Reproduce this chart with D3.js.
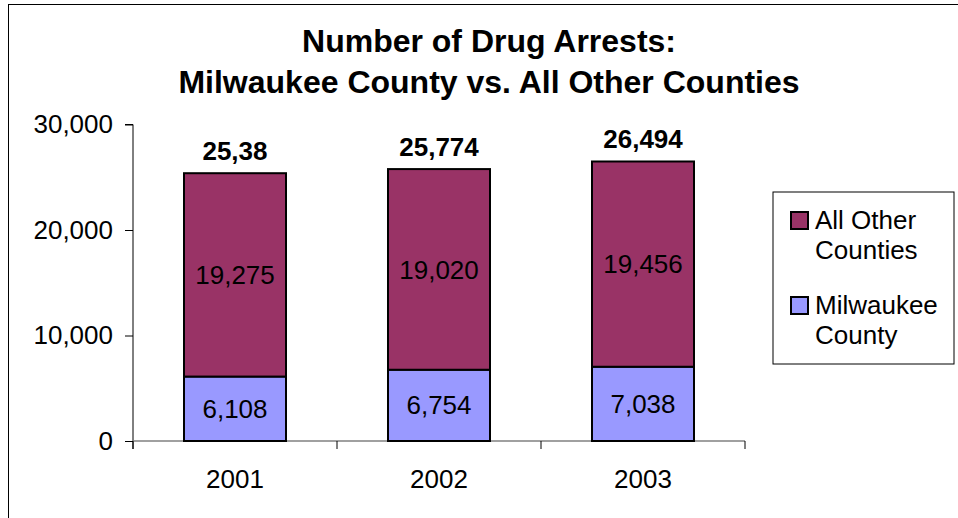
<!DOCTYPE html>
<html>
<head>
<meta charset="utf-8">
<script src="https://cdn.jsdelivr.net/npm/d3@7"></script>
<style>
  html, body { margin: 0; padding: 0; background: #fff; }
  svg { display: block; font-family: "Liberation Sans", Arial, sans-serif; }
</style>
</head>
<body>
<svg id="chart" width="958" height="518"></svg>
<script>
// ---- data ----
const years = ["2001", "2002", "2003"];
const milwaukee = [6108, 6754, 7038];
const otherCounties = [19275, 19020, 19456];
const totalLabels = ["25,38", "25,774", "26,494"];
const yTicks = [0, 10000, 20000, 30000];
const seriesNames = ["All Other Counties", "Milwaukee County"];
const titleLines = ["Number of Drug Arrests:", "Milwaukee County vs. All Other Counties"];

const colors = { other: "#993366", milw: "#9999FF" };

const svg = d3.select("#chart");

// outer frame (right/bottom edges are off-canvas)
svg.append("rect")
  .attr("x", 8.5).attr("y", 4.5)
  .attr("width", 1100).attr("height", 700)
  .attr("fill", "#fff").attr("stroke", "#000").attr("stroke-width", 1);

// title
svg.append("g").selectAll("text").data(titleLines).join("text")
  .attr("x", 489)
  .attr("y", (d, i) => 52 + i * 41)
  .attr("text-anchor", "middle")
  .attr("font-size", 32)
  .attr("font-weight", "bold")
  .attr("fill", "#000")
  .text(d => d);

// scales
const x = d3.scaleBand().domain(years).range([133, 745]).paddingInner(0.5).paddingOuter(0.25);
const y = d3.scaleLinear().domain([0, 30000]).range([441, 124.5]);

// y axis
const yAxis = d3.axisLeft(y).tickValues(yTicks).tickSize(8).tickPadding(12)
  .tickFormat(d3.format(","));
const gy = svg.append("g").attr("transform", "translate(133,0)").call(yAxis);
gy.select(".domain").attr("stroke", "#000").attr("d", "M-8,124.5H0V449");
gy.selectAll(".tick line").attr("stroke", "#000");
gy.selectAll(".tick text").attr("font-size", 26).attr("fill", "#000")
  .attr("font-family", "'Liberation Sans', Arial, sans-serif");

// x axis
const gx = svg.append("g").attr("transform", "translate(0,441)");
gx.append("line").attr("x1", 133).attr("x2", 745).attr("y1", 0).attr("y2", 0)
  .attr("stroke", "#808080").attr("stroke-width", 1.5);
const boundaries = years.map(d => x(d) - x.step() * x.paddingInner() / 2);
boundaries.push(x(years[years.length - 1]) + x.bandwidth() + x.step() * x.paddingInner() / 2);
gx.selectAll("line.tk").data(boundaries).join("line").attr("class", "tk")
  .attr("x1", d => d).attr("x2", d => d).attr("y1", 0).attr("y2", 8)
  .attr("stroke", "#000");
gx.selectAll("text").data(years).join("text")
  .attr("x", d => x(d) + x.bandwidth() / 2)
  .attr("y", 47)
  .attr("text-anchor", "middle")
  .attr("font-size", 26)
  .attr("fill", "#000")
  .text(d => d);

// stacked bars
const rows = years.map((yr, i) => ({ year: yr, milw: milwaukee[i], other: otherCounties[i], label: totalLabels[i] }));
const stacked = d3.stack().keys(["milw", "other"])(rows);

const gb = svg.append("g");
stacked.forEach(layer => {
  gb.selectAll("rect." + layer.key).data(layer).join("rect")
    .attr("class", layer.key)
    .attr("x", d => x(d.data.year))
    .attr("width", x.bandwidth())
    .attr("y", d => y(d[1]))
    .attr("height", d => y(d[0]) - y(d[1]))
    .attr("fill", colors[layer.key])
    .attr("stroke", "#000")
    .attr("stroke-width", 2);
  gb.selectAll("text." + layer.key).data(layer).join("text")
    .attr("class", layer.key)
    .attr("x", d => x(d.data.year) + x.bandwidth() / 2)
    .attr("y", d => (y(d[0]) + y(d[1])) / 2)
    .attr("dy", "0.35em")
    .attr("text-anchor", "middle")
    .attr("font-size", 26)
    .attr("fill", "#000")
    .text(d => d3.format(",")(d.data[layer.key]));
});

// totals
const topLayer = stacked[stacked.length - 1];
gb.selectAll("text.total").data(topLayer).join("text")
  .attr("class", "total")
  .attr("x", d => x(d.data.year) + x.bandwidth() / 2)
  .attr("y", d => y(d[1]) - 13)
  .attr("text-anchor", "middle")
  .attr("font-size", 26)
  .attr("font-weight", "bold")
  .attr("fill", "#000")
  .text(d => d.data.label);

// legend
const lg = svg.append("g");
lg.append("rect").attr("x", 773).attr("y", 192).attr("width", 181).attr("height", 172)
  .attr("fill", "#fff").attr("stroke", "#000").attr("stroke-width", 1);
const legendItems = [
  { name: seriesNames[0], color: colors.other, y: 212 },
  { name: seriesNames[1], color: colors.milw, y: 297 }
];
legendItems.forEach(it => {
  lg.append("rect").attr("x", 791).attr("y", it.y).attr("width", 17).attr("height", 17)
    .attr("fill", it.color).attr("stroke", "#000").attr("stroke-width", 2);
  const words = it.name.split(" ");
  const l1 = words.slice(0, words.length - 1).join(" ");
  const l2 = words[words.length - 1];
  const t = lg.append("text").attr("x", 815).attr("y", it.y + 17)
    .attr("font-size", 26).attr("fill", "#000");
  t.append("tspan").attr("x", 815).text(l1);
  t.append("tspan").attr("x", 815).attr("dy", 30).text(l2);
});
</script>
</body>
</html>
